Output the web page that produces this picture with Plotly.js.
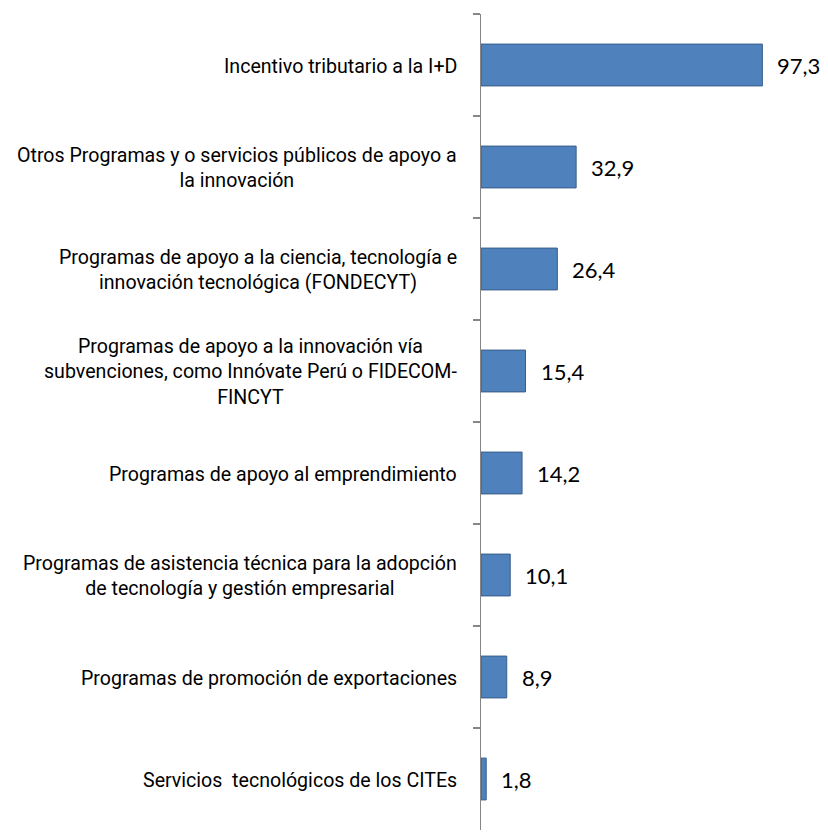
<!DOCTYPE html>
<html>
<head>
<meta charset="utf-8">
<script src="https://cdn.plot.ly/plotly-3.0.1.min.js"></script>
<style>
  body { margin: 0; background: #fff; }
  #myplot { width: 828px; height: 839px; }
</style>
</head>
<body>
<div id="myplot"></div>
<script>
// categories, top to bottom
const categories = [
    "Incentivo tributario a la I+D",
    "Otros Programas y o servicios públicos de apoyo a<br>la innovación",
    "Programas de apoyo a la ciencia, tecnología e<br>innovación tecnológica (FONDECYT)",
    "Programas de apoyo a la innovación vía<br>subvenciones, como Innóvate Perú o FIDECOM-<br>FINCYT",
    "Programas de apoyo al emprendimiento",
    "Programas de asistencia técnica para la adopción<br>de tecnología y gestión empresarial",
    "Programas de promoción de exportaciones",
    "Servicios  tecnológicos de los CITEs"
]
const values = [97.3, 32.9, 26.4, 15.4, 14.2, 10.1, 8.9, 1.8]
const valueLabels = ["97,3", "32,9", "26,4", "15,4", "14,2", "10,1", "8,9", "1,8"]

const labelFont = {family: "Roboto, Liberation Sans, sans-serif", size: 19.6, color: "#000"}
const valueFont = {family: "Lato, Calibri, sans-serif", size: 22, color: "#000"}

let bars = {
    type: "bar",
    orientation: "h",
    x: values,
    y: categories,
    width: 0.41,
    marker: {color: "#4F81BD", line: {color: "#385D8A", width: 1}},
    hoverinfo: "none"
}

let annotations = []
for (let n = 0; n < categories.length; n++) {
    // category label, centred lines, right edge next to the axis
    annotations.push({
        xref: "paper", yref: "y",
        x: 0, y: categories[n],
        xanchor: "right", yanchor: "middle",
        xshift: -22,
        yshift: -1,
        align: "center",
        showarrow: false,
        text: categories[n],
        font: labelFont
    })
    // value label
    annotations.push({
        xref: "x", yref: "y",
        x: values[n], y: categories[n],
        xanchor: "left", yanchor: "middle",
        xshift: 13,
        showarrow: false,
        text: valueLabels[n],
        font: valueFont
    })
}

var layout = {
    width: 828,
    height: 839,
    margin: {l: 481, r: 0, t: 14, b: 9},
    paper_bgcolor: "#fff",
    plot_bgcolor: "#fff",
    showlegend: false,
    xaxis: {
        range: [0, 120],
        visible: false,
        showgrid: false,
        zeroline: false,
        fixedrange: true
    },
    yaxis: {
        autorange: "reversed",
        showticklabels: false,
        showline: true,
        linecolor: "#868686",
        linewidth: 1.5,
        ticks: "outside",
        tickson: "boundaries",
        ticklen: 7,
        tickcolor: "#868686",
        tickwidth: 1.5,
        showgrid: false,
        zeroline: false,
        fixedrange: true
    },
    annotations: annotations
}

Plotly.newPlot("myplot", [bars], layout, {displayModeBar: false, staticPlot: true})
</script>
</body>
</html>
